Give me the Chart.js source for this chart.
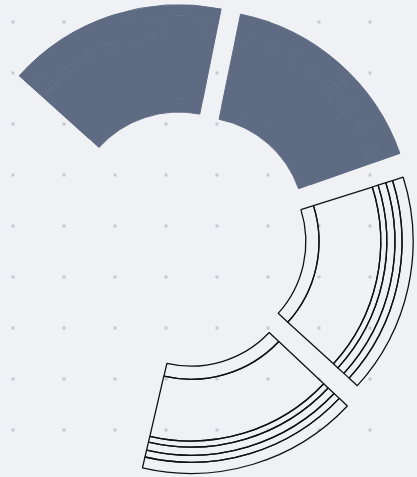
<!DOCTYPE html>
<html>
<head>
<meta charset="utf-8">
<script src="https://cdn.jsdelivr.net/npm/chart.js@4.4.0/dist/chart.umd.min.js"></script>
<style>
html, body { margin: 0; padding: 0; background: #eff1f5; }
#wrap { width: 417px; height: 477px; }
</style>
</head>
<body>
<div id="wrap"><canvas id="ringChart" width="417" height="477"></canvas></div>
<script>
// slices (read as degrees of the circle) and rings
var labels = ['A', 'B', 'gap 1', 'C', 'gap 2', 'D', 'E', 'F'];
var sliceValues = [59.6, 59.3, 1.6, 60, 0.8, 60, 59.35, 59.35];
var sliceOffsets = [80, 75, 0, 58, 0, 84, 0, 0]; // chart.js moves a slice by offset / 4
var ringWeights = [11, 7, 8, 6, 61, 13]; // outer ring first

var slate = '#5f6b83';
var ink = '#111111';
var none = 'rgba(0,0,0,0)';
var fillColors = [slate, slate, none, none, none, none, none, none];
var lineColors = [slate, slate, none, ink, none, ink, none, none];
var lineWidths = [1, 1, 0, 1.3, 0, 1.3, 0, 0];

// dotted paper behind the chart
var dotGrid = {
  id: 'dotGrid',
  beforeDraw: function (chart) {
    var ctx = chart.ctx;
    ctx.save();
    ctx.fillStyle = '#eff1f5';
    ctx.fillRect(0, 0, chart.width, chart.height);
    ctx.fillStyle = '#c7cad0';
    for (var x = 13; x < chart.width; x += 51) {
      for (var y = 22; y < chart.height; y += 51) {
        ctx.beginPath();
        ctx.arc(x, y, 1.8, 0, Math.PI * 2);
        ctx.fill();
      }
    }
    ctx.restore();
  }
};

var datasets = ringWeights.map(function (w, i) {
  return {
    label: 'ring ' + (i + 1),
    data: sliceValues,
    weight: w,
    backgroundColor: fillColors,
    borderColor: lineColors,
    borderWidth: lineWidths,
    offset: sliceOffsets,
    hoverOffset: 0
  };
});

var chart = new Chart(document.getElementById('ringChart').getContext('2d'), {
  type: 'doughnut',
  data: {
    labels: labels,
    datasets: datasets
  },
  options: {
    responsive: false,
    animation: false,
    rotation: -48.1,
    cutout: '49.4%',
    radius: 212,
    layout: { padding: { left: 0, right: 47, top: 0, bottom: 0 } },
    plugins: {
      legend: { display: false },
      tooltip: { enabled: false }
    }
  },
  plugins: [dotGrid]
});
</script>
</body>
</html>
